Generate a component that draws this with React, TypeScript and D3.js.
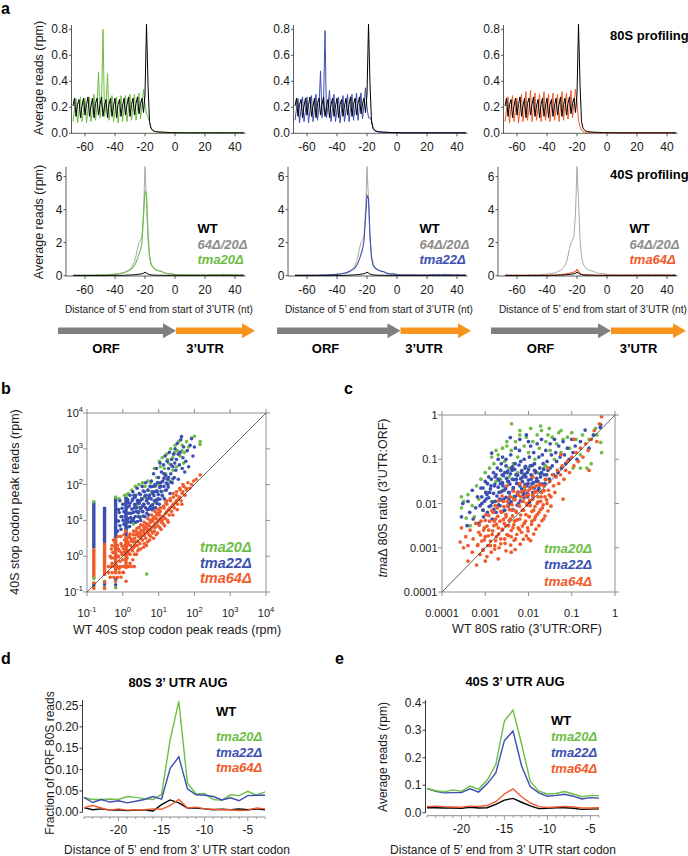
import React from "react";
import * as d3 from "d3";

const FONT = "'Liberation Sans', Arial, Helvetica, sans-serif";
const C_GREEN = "#6dbd45";
const C_BLUE = "#3b4fb0";
const C_ORANGE = "#f15a2a";
const C_GRAYLINE = "#a8a8a8";
const C_GRAYTEXT = "#8c8c8c";
const C_FRAME = "#8f8f8f";
const C_ARROW_GRAY = "#808080";
const C_ARROW_ORANGE = "#f7941e";

// ---------------- panel a: metagene profiles (nt -68 .. 46) ----------------
const NT = d3.range(-68, 47);
const NT_TICKS = [-60, -40, -20, 0, 20, 40];
const TICKS_80S = [0, 0.2, 0.4, 0.6, 0.8];
const TICKS_40S = [0, 2, 4, 6];
const MUT_NAMES = ["tma20\u0394", "tma22\u0394", "tma64\u0394"];
const MUT_COLORS = [C_GREEN, C_BLUE, C_ORANGE];

const WT_80S = [
  0.21, 0.27, 0.13, 0.22, 0.26, 0.12, 0.21, 0.27, 0.14, 0.22,
  0.28, 0.13, 0.21, 0.27, 0.12, 0.23, 0.27, 0.14, 0.22, 0.28,
  0.13, 0.21, 0.26, 0.12, 0.22, 0.27, 0.13, 0.21, 0.27, 0.12,
  0.22, 0.26, 0.13, 0.21, 0.27, 0.14, 0.22, 0.28, 0.13, 0.22,
  0.27, 0.14, 0.23, 0.28, 0.15, 0.23, 0.27, 0.16, 0.30, 0.84,
  0.38, 0.09, 0.04, 0.025, 0.018, 0.014, 0.012, 0.011, 0.010, 0.009,
  0.008, 0.008, 0.007, 0.007, 0.006, 0.006, 0.006, 0.005, 0.005, 0.005,
  0.005, 0.005, 0.004, 0.004, 0.004, 0.004, 0.004, 0.004, 0.004, 0.004,
  0.004, 0.004, 0.004, 0.004, 0.004, 0.004, 0.004, 0.004, 0.004, 0.004,
  0.004, 0.004, 0.004, 0.004, 0.004, 0.004, 0.004, 0.004, 0.004, 0.004,
  0.004, 0.004, 0.004, 0.004, 0.004, 0.004, 0.004, 0.004, 0.004, 0.004,
  0.004, 0.004, 0.004, 0.004, 0.004,
];
const TMA20_80S = [
  0.09, 0.18, 0.27, 0.08, 0.17, 0.28, 0.09, 0.18, 0.27, 0.08,
  0.19, 0.28, 0.09, 0.18, 0.30, 0.10, 0.20, 0.47, 0.12, 0.22,
  0.80, 0.13, 0.22, 0.46, 0.10, 0.19, 0.29, 0.09, 0.18, 0.28,
  0.08, 0.18, 0.29, 0.09, 0.19, 0.29, 0.09, 0.19, 0.30, 0.10,
  0.20, 0.30, 0.10, 0.20, 0.31, 0.11, 0.22, 0.34, 0.22, 0.15,
  0.13, 0.09, 0.04, 0.02, 0.015, 0.012, 0.011, 0.010, 0.009, 0.008,
  0.008, 0.007, 0.007, 0.007, 0.006, 0.006, 0.006, 0.005, 0.005, 0.005,
  0.005, 0.005, 0.005, 0.004, 0.004, 0.004, 0.004, 0.004, 0.004, 0.004,
  0.004, 0.004, 0.004, 0.004, 0.004, 0.004, 0.004, 0.004, 0.004, 0.004,
  0.004, 0.004, 0.004, 0.004, 0.004, 0.004, 0.004, 0.004, 0.004, 0.004,
  0.004, 0.004, 0.004, 0.004, 0.004, 0.004, 0.004, 0.004, 0.004, 0.004,
  0.004, 0.004, 0.004, 0.004, 0.004,
];
const TMA22_80S = [
  0.10, 0.19, 0.27, 0.08, 0.18, 0.28, 0.09, 0.17, 0.28, 0.08,
  0.18, 0.29, 0.09, 0.19, 0.30, 0.10, 0.20, 0.48, 0.12, 0.21,
  0.79, 0.12, 0.21, 0.33, 0.09, 0.19, 0.30, 0.09, 0.18, 0.28,
  0.08, 0.18, 0.29, 0.09, 0.18, 0.30, 0.09, 0.19, 0.30, 0.10,
  0.19, 0.31, 0.10, 0.21, 0.31, 0.11, 0.22, 0.35, 0.20, 0.12,
  0.12, 0.10, 0.04, 0.02, 0.015, 0.012, 0.010, 0.009, 0.008, 0.008,
  0.007, 0.007, 0.007, 0.006, 0.006, 0.006, 0.005, 0.005, 0.005, 0.005,
  0.005, 0.005, 0.004, 0.004, 0.004, 0.004, 0.004, 0.004, 0.004, 0.004,
  0.004, 0.004, 0.004, 0.004, 0.004, 0.004, 0.004, 0.004, 0.004, 0.004,
  0.004, 0.004, 0.004, 0.004, 0.004, 0.004, 0.004, 0.004, 0.004, 0.004,
  0.004, 0.004, 0.004, 0.004, 0.004, 0.004, 0.004, 0.004, 0.004, 0.004,
  0.004, 0.004, 0.004, 0.004, 0.004,
];
const TMA64_80S = [
  0.09, 0.18, 0.28, 0.08, 0.19, 0.29, 0.09, 0.18, 0.27, 0.08,
  0.19, 0.30, 0.09, 0.20, 0.32, 0.10, 0.19, 0.33, 0.09, 0.20,
  0.31, 0.10, 0.19, 0.30, 0.09, 0.20, 0.32, 0.10, 0.19, 0.30,
  0.09, 0.20, 0.31, 0.10, 0.19, 0.30, 0.09, 0.20, 0.32, 0.10,
  0.21, 0.31, 0.11, 0.22, 0.33, 0.12, 0.23, 0.34, 0.24, 0.10,
  0.05, 0.025, 0.015, 0.010, 0.008, 0.007, 0.006, 0.006, 0.005, 0.005,
  0.005, 0.005, 0.005, 0.004, 0.004, 0.004, 0.004, 0.004, 0.004, 0.004,
  0.004, 0.004, 0.004, 0.004, 0.004, 0.004, 0.004, 0.004, 0.004, 0.004,
  0.004, 0.004, 0.004, 0.004, 0.004, 0.004, 0.004, 0.004, 0.004, 0.004,
  0.004, 0.004, 0.004, 0.004, 0.004, 0.004, 0.004, 0.004, 0.004, 0.004,
  0.004, 0.004, 0.004, 0.004, 0.004, 0.004, 0.004, 0.004, 0.004, 0.004,
  0.004, 0.004, 0.004, 0.004, 0.004,
];

const WT_40S = [
  0.01, 0.01, 0.01, 0.01, 0.01, 0.01, 0.01, 0.01, 0.01, 0.01,
  0.01, 0.01, 0.01, 0.01, 0.01, 0.01, 0.01, 0.01, 0.01, 0.01,
  0.01, 0.01, 0.01, 0.01, 0.02, 0.02, 0.02, 0.02, 0.02, 0.02,
  0.02, 0.02, 0.02, 0.02, 0.03, 0.03, 0.03, 0.04, 0.04, 0.05,
  0.05, 0.06, 0.07, 0.08, 0.09, 0.10, 0.12, 0.15, 0.22, 0.16,
  0.10, 0.07, 0.05, 0.04, 0.04, 0.03, 0.03, 0.03, 0.03, 0.03,
  0.02, 0.02, 0.02, 0.02, 0.02, 0.02, 0.02, 0.02, 0.02, 0.02,
  0.02, 0.02, 0.02, 0.02, 0.02, 0.02, 0.02, 0.02, 0.02, 0.02,
  0.02, 0.02, 0.02, 0.02, 0.02, 0.02, 0.02, 0.02, 0.02, 0.02,
  0.02, 0.02, 0.02, 0.02, 0.02, 0.02, 0.02, 0.02, 0.02, 0.02,
  0.02, 0.02, 0.02, 0.02, 0.02, 0.02, 0.02, 0.02, 0.02, 0.02,
  0.02, 0.02, 0.02, 0.02, 0.02,
];
const DKO_40S = [
  0.04, 0.05, 0.04, 0.04, 0.05, 0.04, 0.04, 0.05, 0.04, 0.05,
  0.04, 0.04, 0.05, 0.05, 0.04, 0.05, 0.05, 0.06, 0.05, 0.06,
  0.06, 0.07, 0.06, 0.07, 0.08, 0.07, 0.08, 0.09, 0.10, 0.11,
  0.12, 0.13, 0.15, 0.17, 0.20, 0.24, 0.28, 0.33, 0.40, 0.50,
  0.65, 0.85, 1.20, 1.65, 2.00, 2.15, 2.40, 3.80, 6.60, 4.60,
  2.20, 1.20, 0.75, 0.55, 0.45, 0.38, 0.33, 0.30, 0.28, 0.26,
  0.22, 0.18, 0.15, 0.14, 0.13, 0.14, 0.12, 0.10, 0.08, 0.07,
  0.06, 0.06, 0.05, 0.05, 0.05, 0.04, 0.04, 0.05, 0.05, 0.04,
  0.05, 0.05, 0.06, 0.05, 0.05, 0.04, 0.05, 0.06, 0.05, 0.05,
  0.06, 0.07, 0.06, 0.06, 0.07, 0.08, 0.07, 0.06, 0.07, 0.08,
  0.09, 0.08, 0.07, 0.08, 0.07, 0.06, 0.07, 0.06, 0.05, 0.06,
  0.05, 0.05, 0.06, 0.05, 0.05,
];
const TMA20_40S = [
  0.03, 0.03, 0.03, 0.03, 0.03, 0.03, 0.03, 0.03, 0.03, 0.03,
  0.03, 0.03, 0.03, 0.03, 0.03, 0.03, 0.04, 0.04, 0.04, 0.04,
  0.04, 0.05, 0.05, 0.05, 0.06, 0.06, 0.07, 0.08, 0.09, 0.10,
  0.11, 0.12, 0.14, 0.16, 0.18, 0.21, 0.25, 0.30, 0.36, 0.42,
  0.50, 0.62, 0.80, 1.05, 1.30, 1.55, 2.00, 3.60, 5.10, 4.95,
  2.60, 1.20, 0.70, 0.55, 0.45, 0.38, 0.33, 0.30, 0.28, 0.25,
  0.20, 0.16, 0.13, 0.12, 0.11, 0.12, 0.10, 0.08, 0.06, 0.05,
  0.05, 0.04, 0.04, 0.04, 0.04, 0.04, 0.04, 0.04, 0.04, 0.04,
  0.04, 0.04, 0.04, 0.03, 0.03, 0.04, 0.04, 0.04, 0.03, 0.03,
  0.04, 0.04, 0.04, 0.04, 0.05, 0.05, 0.04, 0.04, 0.04, 0.05,
  0.05, 0.05, 0.04, 0.05, 0.04, 0.04, 0.04, 0.04, 0.03, 0.04,
  0.03, 0.03, 0.04, 0.03, 0.03,
];
const TMA22_40S = [
  0.03, 0.03, 0.03, 0.03, 0.03, 0.03, 0.03, 0.03, 0.03, 0.03,
  0.03, 0.03, 0.03, 0.03, 0.03, 0.03, 0.03, 0.04, 0.04, 0.04,
  0.04, 0.04, 0.05, 0.05, 0.05, 0.06, 0.07, 0.07, 0.08, 0.09,
  0.10, 0.12, 0.13, 0.15, 0.17, 0.20, 0.24, 0.28, 0.34, 0.40,
  0.48, 0.60, 0.78, 1.00, 1.30, 1.60, 2.10, 3.50, 4.85, 4.70,
  2.40, 1.10, 0.65, 0.50, 0.42, 0.36, 0.32, 0.28, 0.26, 0.24,
  0.19, 0.15, 0.12, 0.11, 0.10, 0.11, 0.09, 0.07, 0.06, 0.05,
  0.04, 0.04, 0.04, 0.04, 0.04, 0.04, 0.04, 0.04, 0.04, 0.04,
  0.04, 0.04, 0.03, 0.03, 0.04, 0.04, 0.04, 0.03, 0.03, 0.04,
  0.04, 0.04, 0.05, 0.04, 0.04, 0.05, 0.05, 0.04, 0.04, 0.05,
  0.05, 0.04, 0.05, 0.04, 0.04, 0.04, 0.04, 0.03, 0.04, 0.04,
  0.03, 0.04, 0.03, 0.03, 0.03,
];
const TMA64_40S = [
  0.02, 0.02, 0.02, 0.02, 0.02, 0.02, 0.02, 0.02, 0.02, 0.02,
  0.02, 0.02, 0.02, 0.02, 0.02, 0.02, 0.02, 0.02, 0.02, 0.02,
  0.02, 0.02, 0.02, 0.02, 0.03, 0.03, 0.03, 0.03, 0.03, 0.03,
  0.03, 0.04, 0.04, 0.04, 0.05, 0.05, 0.06, 0.06, 0.07, 0.08,
  0.09, 0.11, 0.13, 0.15, 0.17, 0.19, 0.22, 0.25, 0.38, 0.26,
  0.14, 0.09, 0.07, 0.06, 0.05, 0.05, 0.05, 0.04, 0.04, 0.04,
  0.03, 0.03, 0.03, 0.03, 0.03, 0.03, 0.03, 0.03, 0.02, 0.02,
  0.02, 0.02, 0.02, 0.02, 0.02, 0.02, 0.02, 0.02, 0.02, 0.02,
  0.02, 0.02, 0.02, 0.02, 0.02, 0.02, 0.02, 0.02, 0.02, 0.02,
  0.02, 0.02, 0.02, 0.02, 0.02, 0.02, 0.02, 0.02, 0.02, 0.02,
  0.02, 0.02, 0.02, 0.02, 0.02, 0.02, 0.02, 0.02, 0.02, 0.02,
  0.02, 0.02, 0.02, 0.02, 0.02,
];
const MUT_80S = [TMA20_80S, TMA22_80S, TMA64_80S];
const MUT_40S = [TMA20_40S, TMA22_40S, TMA64_40S];

// ---------------- panel b: 40S stop codon peak reads (log10 rpm) ----------------
const B_TICK_EXP = [-1, 0, 1, 2, 3, 4];
const B_STRIPE_X = [-0.81, -0.51, -0.2, 0.09];
const B_STRIPE_TOP = [1.52, 1.38, 1.63, 1.66];
const B_STRIPE_SPLIT = [0.22, 0.37, 0.5, 0.55];
const B_STRIPE_BOTTOM = [-0.61, -0.55, -0.45, -0.35];

const GREEN_B: [number, number][] = [
  [-0.1, 1.6], [0.05, 1.7], [0.15, 1.75], [0.25, 1.85], [0.35, 1.95], [0.45, 2.0], [0.55, 2.05], [0.62, 1.95], [0.7, 2.1], [0.78, 2.05],
  [0.88, 2.45], [0.95, 2.2], [1.02, 2.65], [1.1, 2.75], [1.16, 2.45], [1.22, 2.85], [1.28, 2.6], [1.34, 3.0], [1.4, 2.75], [1.46, 3.1],
  [1.52, 2.95], [1.56, 3.2], [1.6, 2.8], [1.66, 3.1], [1.72, 2.9], [1.78, 3.2], [1.84, 3.05], [1.92, 3.3], [2.0, 3.35], [2.16, 3.2],
  [2.16, 3.12], [0.2, 1.2], [0.4, 1.4], [0.6, 1.65], [0.8, 1.8], [1.0, 2.0], [1.2, 2.3], [1.4, 2.4], [0.3, 0.9], [0.5, 1.1],
  [0.7, 1.3], [0.9, 1.5], [1.1, 1.8], [1.3, 2.1], [1.5, 2.5], [1.7, 2.6], [0.67, -0.5], [-0.81, -0.85], [-0.51, -0.85], [-0.51, -0.7],
  [-0.81, -0.75], [-0.2, -0.88], [-0.81, -0.62], [-0.81, 1.52], [-0.2, 1.65], [0.09, 1.7], [1.05, 2.5], [1.25, 2.7], [1.45, 2.9], [1.65, 2.95],
];
const BLUE_B: [number, number][] = [
  [-0.05, 0.75], [-0.02, 1.1], [0.0, 1.45], [0.03, 0.9], [0.06, 1.25], [0.09, 1.6], [0.12, 0.8], [0.15, 1.05], [0.18, 1.4], [0.2, 1.7],
  [0.22, 0.95], [0.24, 1.2], [0.26, 1.55], [0.28, 1.8], [0.3, 1.05], [0.32, 1.35], [0.34, 1.65], [0.36, 0.95], [0.38, 1.25], [0.4, 1.9],
  [0.42, 1.5], [0.44, 1.1], [0.46, 1.75], [0.48, 1.35], [0.5, 1.0], [0.52, 1.6], [0.54, 1.95], [0.56, 1.25], [0.58, 1.45], [0.6, 1.8],
  [0.62, 1.1], [0.64, 2.05], [0.66, 1.55], [0.68, 1.3], [0.7, 1.85], [0.72, 1.15], [0.74, 1.65], [0.76, 1.95], [0.78, 1.4], [0.8, 2.1],
  [0.82, 1.3], [0.84, 1.75], [0.86, 2.3], [0.88, 1.55], [0.9, 2.0], [0.92, 1.35], [0.94, 2.45], [0.96, 1.8], [0.98, 1.6], [1.0, 2.2],
  [1.02, 1.45], [1.04, 2.6], [1.06, 1.95], [1.08, 2.35], [1.1, 1.7], [1.12, 2.1], [1.14, 2.55], [1.16, 1.6], [1.18, 2.8], [1.2, 2.25],
  [1.22, 1.85], [1.24, 2.65], [1.26, 2.0], [1.28, 2.45], [1.3, 2.9], [1.32, 1.75], [1.34, 2.3], [1.36, 2.7], [1.38, 2.05], [1.4, 2.5],
  [1.42, 2.85], [1.44, 2.2], [1.46, 3.0], [1.48, 2.4], [1.5, 2.7], [1.52, 3.15], [1.55, 2.15], [1.58, 2.55], [1.6, 2.9], [1.62, 3.25],
  [1.64, 3.34], [1.66, 2.45], [1.68, 2.75], [1.7, 3.05], [1.73, 2.35], [1.76, 2.65], [1.8, 2.95], [1.84, 2.5], [1.88, 3.1], [1.92, 3.28],
  [1.96, 2.8], [2.0, 3.05], [0.1, 1.2], [0.25, 1.0], [0.35, 1.45], [0.45, 1.25], [0.55, 1.4], [0.65, 1.7], [0.75, 1.35], [0.85, 1.95],
  [0.95, 1.55], [1.05, 2.05], [1.15, 2.3], [1.25, 2.15], [1.35, 2.55], [1.45, 2.6], [1.55, 2.85], [-0.15, 0.7], [-0.12, 1.3], [-0.18, 1.0],
  [-0.08, 1.55], [0.14, 1.5], [-0.81, -0.8], [-0.51, -0.78], [-0.2, -0.8], [-0.2, -0.65], [0.31, 1.7], [0.49, 1.55], [0.69, 1.6], [0.89, 1.8],
];
const BLUE_B_CORE: [number, number][] = [
  [-0.08, 0.85], [0.06, 0.87], [0.19, 0.83],
  [-0.12, 0.98], [0.01, 1.0], [0.15, 0.96], [0.29, 0.99], [0.41, 0.97],
  [-0.05, 1.1], [0.08, 1.12], [0.22, 1.08], [0.35, 1.11], [0.48, 1.09], [0.58, 1.12],
  [-0.1, 1.22], [0.03, 1.24], [0.17, 1.2], [0.3, 1.23], [0.43, 1.21], [0.55, 1.24], [0.67, 1.2],
  [-0.02, 1.34], [0.12, 1.36], [0.25, 1.32], [0.38, 1.35], [0.51, 1.33], [0.63, 1.36], [0.75, 1.32], [0.86, 1.35],
  [0.07, 1.46], [0.2, 1.48], [0.33, 1.44], [0.46, 1.47], [0.59, 1.45], [0.71, 1.48], [0.83, 1.44], [0.95, 1.47],
  [0.14, 1.58], [0.28, 1.6], [0.41, 1.56], [0.54, 1.59], [0.67, 1.57], [0.79, 1.6], [0.91, 1.56], [1.03, 1.59],
  [0.36, 1.7], [0.49, 1.72], [0.62, 1.68], [0.75, 1.71], [0.87, 1.69], [0.99, 1.72], [1.11, 1.68],
  [0.57, 1.82], [0.7, 1.84], [0.83, 1.8], [0.95, 1.83], [1.07, 1.81], [1.19, 1.84],
  [0.79, 1.94], [0.91, 1.96], [1.03, 1.92], [1.15, 1.95], [1.27, 1.93],
  [0.97, 2.06], [1.1, 2.08], [1.22, 2.04], [1.34, 2.07],
  [1.15, 2.18], [1.28, 2.2], [1.4, 2.16],
];
const ORANGE_B: [number, number][] = [
  [-0.3, -0.2], [-0.28, 0.1], [-0.25, -0.05], [-0.22, 0.25], [-0.2, 0.05], [-0.18, -0.25], [-0.15, 0.3], [-0.12, 0.0], [-0.1, 0.15], [-0.08, -0.15],
  [-0.05, 0.35], [-0.03, 0.1], [0.0, -0.1], [0.02, 0.2], [0.05, 0.45], [0.07, 0.05], [0.1, 0.25], [0.12, -0.05], [0.14, 0.4], [0.16, 0.15],
  [0.18, 0.55], [0.2, 0.05], [0.22, 0.3], [0.25, 0.45], [0.27, 0.15], [0.29, 0.6], [0.31, 0.25], [0.33, 0.05], [0.35, 0.4], [0.37, 0.7],
  [0.4, 0.3], [0.42, 0.15], [0.44, 0.55], [0.46, 0.8], [0.48, 0.35], [0.5, 0.2], [0.52, 0.6], [0.55, 0.45], [0.57, 0.85], [0.6, 0.35],
  [0.62, 0.65], [0.64, 0.5], [0.66, 0.9], [0.69, 0.4], [0.71, 0.75], [0.73, 0.6], [0.76, 1.0], [0.78, 0.55], [0.8, 0.8], [0.83, 0.65],
  [0.85, 1.05], [0.88, 0.7], [0.9, 0.9], [0.93, 0.6], [0.95, 1.15], [0.98, 0.85], [1.0, 1.0], [1.03, 0.8], [1.05, 1.25], [1.08, 0.95],
  [1.1, 1.1], [1.13, 0.9], [1.15, 1.35], [1.18, 1.05], [1.2, 1.2], [1.23, 1.45], [1.25, 1.0], [1.28, 1.3], [1.3, 1.15], [1.33, 1.55],
  [1.36, 1.25], [1.38, 1.4], [1.41, 1.65], [1.44, 1.35], [1.47, 1.5], [1.5, 1.7], [1.53, 1.45], [1.56, 1.6], [1.6, 1.85], [1.63, 1.55],
  [1.66, 1.75], [1.7, 1.95], [1.74, 1.7], [1.78, 1.85], [1.82, 2.05], [1.87, 1.9], [1.92, 2.0], [1.98, 2.1], [2.05, 2.15], [2.16, 2.27],
  [-0.35, 0.0], [-0.3, 0.3], [-0.26, 0.45], [-0.14, 0.55], [-0.06, 0.55], [0.03, 0.6], [0.08, 0.7], [-0.1, -0.35], [0.0, -0.45], [0.1, -0.3],
  [0.2, -0.2], [0.28, -0.1], [0.38, 0.05], [0.45, 0.2], [0.58, 0.25], [0.66, 0.3], [0.75, 0.45], [0.86, 0.5], [0.97, 0.65], [1.07, 0.75],
  [1.17, 0.85], [1.27, 0.95], [1.4, 1.15], [1.52, 1.3], [1.65, 1.45], [-0.4, -0.29], [-0.32, -0.29], [-0.24, -0.29], [-0.16, -0.29], [-0.08, -0.29],
  [0.0, -0.29], [0.08, -0.29], [0.16, -0.29], [0.24, -0.29], [0.32, -0.29], [-0.4, -0.46], [-0.3, -0.46], [-0.2, -0.46], [-0.1, -0.46], [0.02, -0.46],
  [-0.35, -0.59], [-0.25, -0.59], [-0.15, -0.59], [-0.05, -0.59], [-0.81, -0.75], [-0.51, -0.72], [-0.2, -0.7], [0.09, -0.7], [-0.81, -0.9], [-0.51, -0.9],
  [0.4, 0.6], [0.6, 0.75], [0.8, 1.0], [1.0, 1.2], [1.2, 1.5], [0.3, 0.4], [0.5, 0.5], [0.7, 0.65], [0.9, 0.8], [1.1, 1.0],
];
const ORANGE_B_CORE: [number, number][] = [
  [-0.32, -0.05], [-0.32, 0.2], [-0.22, 0.12], [-0.22, 0.38], [-0.12, 0.2], [-0.12, -0.02], [-0.02, 0.28], [-0.02, 0.05],
  [0.06, 0.3], [0.06, 0.12], [0.15, 0.35], [0.15, 0.1], [0.15, 0.52], [0.24, 0.42], [0.24, 0.2], [0.33, 0.5], [0.33, 0.3],
  [0.42, 0.42], [0.42, 0.65], [0.51, 0.55], [0.51, 0.72], [0.6, 0.58], [0.6, 0.8], [0.69, 0.7], [0.69, 0.9], [0.78, 0.72],
  [0.78, 0.95], [0.87, 0.85], [0.87, 1.1], [0.96, 0.95], [0.96, 1.2], [1.05, 1.05], [1.05, 1.35], [1.14, 1.12], [1.14, 1.4],
  [1.23, 1.25], [1.23, 1.55], [1.32, 1.35], [1.32, 1.6], [1.41, 1.45], [1.41, 1.75], [1.5, 1.55], [1.5, 1.8], [1.59, 1.65],
  [1.59, 1.9], [1.68, 1.8], [1.68, 2.0], [1.77, 1.9], [0.1, 0.45], [0.2, 0.62], [0.3, 0.7], [0.4, 0.78], [0.5, 0.88],
  [0.6, 0.95], [0.7, 1.05], [0.8, 1.15], [0.9, 1.25], [1.0, 1.3], [0.12, 0.3], [0.22, 0.5], [0.36, 0.6], [0.46, 0.65],
  [0.56, 0.68], [0.65, 0.82], [0.74, 0.85], [0.84, 0.98], [0.93, 1.05], [1.02, 1.15],
];

// ---------------- panel c: 80S ratio 3'UTR:ORF (log10) ----------------
const C_TICK_EXP = [-4, -3, -2, -1, 0];
const C_TICK_LABELS = ["0.0001", "0.001", "0.01", "0.1", "1"];
const GREEN_C: [number, number][] = [
  [-3.55, -1.85], [-3.55, -2.1], [-3.5, -1.95], [-3.44, -2.33], [-3.4, -1.8], [-3.35, -2.5], [-3.3, -2.05], [-3.25, -2.3], [-3.2, -1.6], [-3.1, -1.45],
  [-3.05, -2.15], [-3.0, -1.3], [-2.95, -1.75], [-2.9, -1.2], [-2.85, -0.95], [-2.85, -1.95], [-2.8, -1.1], [-2.75, -1.5], [-2.7, -0.9], [-2.65, -1.25],
  [-2.6, -0.75], [-2.6, -1.7], [-2.55, -1.05], [-2.5, -0.7], [-2.45, -1.4], [-2.4, -0.8], [-2.39, -0.2], [-2.35, -1.1], [-2.35, -1.85], [-2.3, -0.6],
  [-2.25, -0.95], [-2.2, -0.45], [-2.15, -1.25], [-2.1, -0.7], [-2.1, -1.65], [-2.05, -0.5], [-2.0, -0.85], [-1.95, -0.3], [-1.9, -0.6], [-1.9, -1.55],
  [-1.85, -1.0], [-1.8, -0.45], [-1.75, -0.75], [-1.7, -0.35], [-1.65, -1.2], [-1.6, -0.6], [-1.55, -0.45], [-1.5, -0.8], [-1.45, -0.5], [-1.4, -1.0],
  [-1.35, -0.65], [-1.3, -0.4], [-1.25, -0.85], [-1.2, -0.55], [-1.1, -0.5], [-1.05, -0.75], [-1.0, -0.4], [-0.9, -0.55], [-0.8, -0.9], [-0.75, -0.45],
  [-0.6, -0.55], [-0.55, -1.1], [-0.45, -0.3], [-0.33, -0.62], [-0.31, -0.85], [-0.42, -0.45], [-2.75, -0.8], [-2.5, -0.6], [-2.2, -0.35], [-1.72, -0.25],
  [-1.52, -0.3], [-1.25, -0.35], [-3.15, -1.9], [-2.95, -1.55], [-2.65, -1.45], [-2.45, -1.2], [-2.25, -1.3], [-2.0, -1.2], [-1.8, -1.3], [-1.6, -1.15],
  [-0.97, -1.2], [-0.8, -1.2], [-0.65, -1.2],
];
const BLUE_C: [number, number][] = [
  [-3.55, -2.3], [-3.52, -2.0], [-3.42, -2.5], [-3.4, -1.95], [-3.36, -2.2], [-3.3, -1.7], [-3.28, -2.35], [-3.22, -2.1], [-3.18, -1.85], [-3.15, -2.45],
  [-3.1, -1.65], [-3.08, -2.0], [-3.04, -2.3], [-3.0, -1.5], [-2.98, -1.9], [-2.95, -2.2], [-2.92, -1.4], [-2.9, -1.75], [-2.87, -2.05], [-2.85, -0.86],
  [-2.84, -2.35], [-2.81, -1.3], [-2.79, -1.6], [-2.77, -1.95], [-2.75, -2.2], [-2.72, -1.2], [-2.7, -1.45], [-2.68, -1.75], [-2.66, -2.05], [-2.63, -1.1],
  [-2.61, -1.35], [-2.59, -1.6], [-2.57, -1.9], [-2.55, -2.15], [-2.52, -1.0], [-2.5, -1.3], [-2.48, -1.5], [-2.46, -1.75], [-2.44, -2.0], [-2.42, -0.51],
  [-2.41, -0.9], [-2.39, -1.2], [-2.37, -1.45], [-2.35, -1.65], [-2.33, -1.9], [-2.31, -1.1], [-2.29, -1.35], [-2.27, -1.55], [-2.25, -1.8], [-2.23, -2.0],
  [-2.21, -0.8], [-2.2, -0.55], [-2.18, -1.05], [-2.16, -1.3], [-2.14, -1.5], [-2.12, -1.75], [-2.1, -1.0], [-2.08, -1.2], [-2.06, -1.4], [-2.04, -1.6],
  [-2.02, -1.85], [-2.0, -0.6], [-1.98, -0.95], [-1.96, -1.15], [-1.94, -1.35], [-1.92, -1.55], [-1.9, -1.75], [-1.88, -0.85], [-1.86, -1.1], [-1.84, -1.3],
  [-1.82, -1.5], [-1.8, -0.65], [-1.78, -1.7], [-1.76, -0.95], [-1.74, -1.2], [-1.72, -1.4], [-1.7, -0.55], [-1.68, -0.9], [-1.66, -1.1], [-1.64, -1.35],
  [-1.62, -1.55], [-1.6, -0.8], [-1.57, -1.05], [-1.55, -1.25], [-1.52, -1.45], [-1.5, -0.65], [-1.47, -0.9], [-1.45, -1.15], [-1.42, -1.35], [-1.4, -0.55],
  [-1.37, -0.85], [-1.35, -1.05], [-1.32, -1.3], [-1.3, -0.7], [-1.27, -0.95], [-1.24, -1.2], [-1.2, -0.6], [-1.17, -0.9], [-1.14, -1.1], [-1.1, -0.75],
  [-1.06, -1.0], [-1.0, -0.55], [-0.97, -0.85], [-0.92, -0.7], [-0.88, -1.0], [-0.8, -0.6], [-0.69, -0.34], [-0.6, -0.75], [-0.5, -0.45], [-0.34, -0.28],
  [-0.33, -0.22], [-2.6, -0.95], [-2.3, -0.75], [-1.95, -0.7], [-2.7, -1.0], [-2.05, -0.45],
];
const BLUE_C_CORE: [number, number][] = [
  [-3.05, -2.15], [-2.8, -2.13], [-2.58, -2.17], [-2.36, -2.14],
  [-3.12, -2.05], [-2.91, -2.07], [-2.69, -2.03], [-2.47, -2.06], [-2.26, -2.04],
  [-3.02, -1.95], [-2.83, -1.97], [-2.61, -1.93], [-2.4, -1.96], [-2.19, -1.94], [-1.98, -1.97],
  [-3.08, -1.85], [-2.92, -1.87], [-2.73, -1.83], [-2.52, -1.86], [-2.31, -1.84], [-2.1, -1.87], [-1.9, -1.83],
  [-2.99, -1.75], [-2.81, -1.77], [-2.62, -1.73], [-2.44, -1.76], [-2.24, -1.74], [-2.03, -1.77], [-1.83, -1.73],
  [-3.05, -1.65], [-2.88, -1.67], [-2.7, -1.63], [-2.53, -1.66], [-2.35, -1.64], [-2.16, -1.67], [-1.96, -1.63], [-1.76, -1.66],
  [-2.95, -1.55], [-2.78, -1.57], [-2.6, -1.53], [-2.43, -1.56], [-2.27, -1.54], [-2.08, -1.57], [-1.89, -1.53], [-1.68, -1.56],
  [-2.86, -1.45], [-2.68, -1.47], [-2.51, -1.43], [-2.34, -1.46], [-2.18, -1.44], [-2.0, -1.47], [-1.81, -1.43], [-1.61, -1.46],
  [-2.75, -1.35], [-2.58, -1.37], [-2.42, -1.33], [-2.25, -1.36], [-2.09, -1.34], [-1.92, -1.37], [-1.73, -1.33],
  [-2.64, -1.25], [-2.48, -1.27], [-2.32, -1.23], [-2.16, -1.26], [-2.0, -1.24], [-1.84, -1.27], [-1.65, -1.23],
  [-2.52, -1.15], [-2.37, -1.17], [-2.22, -1.13], [-2.07, -1.16], [-1.91, -1.14],
  [-2.96, -1.8], [-2.87, -1.6], [-2.77, -1.4], [-2.67, -1.9], [-2.65, -1.55], [-2.56, -1.7], [-2.55, -1.3], [-2.46, -1.5],
  [-2.45, -1.9], [-2.38, -1.25], [-2.36, -1.7], [-2.28, -1.45], [-2.2, -1.6], [-2.13, -1.4], [-2.12, -1.8], [-2.03, -1.3],
  [-2.01, -1.55], [-1.94, -1.45], [-1.87, -1.65], [-1.86, -1.25], [-1.78, -1.5], [-1.7, -1.3], [-1.58, -1.35], [-1.5, -1.2],
];
const ORANGE_C: [number, number][] = [
  [-3.58, -2.87], [-3.55, -2.55], [-3.5, -3.0], [-3.45, -2.75], [-3.4, -2.95], [-3.35, -2.6], [-3.3, -3.1], [-3.28, -2.8], [-3.22, -2.45], [-3.2, -3.39],
  [-3.18, -2.95], [-3.15, -2.65], [-3.12, -3.15], [-3.1, -2.4], [-3.08, -2.85], [-3.05, -3.05], [-3.02, -2.55], [-3.0, -2.75], [-2.98, -2.25], [-2.96, -3.2],
  [-2.94, -2.95], [-2.92, -2.6], [-2.9, -2.4], [-2.88, -2.85], [-2.86, -3.1], [-2.84, -2.7], [-2.82, -2.2], [-2.8, -2.5], [-2.78, -2.95], [-2.76, -2.35],
  [-2.74, -2.75], [-2.72, -2.1], [-2.7, -2.55], [-2.68, -3.0], [-2.66, -2.4], [-2.64, -2.8], [-2.62, -2.2], [-2.6, -2.6], [-2.58, -1.95], [-2.56, -2.45],
  [-2.54, -2.9], [-2.52, -2.3], [-2.5, -2.7], [-2.48, -2.05], [-2.46, -2.5], [-2.44, -1.85], [-2.42, -2.35], [-2.4, -2.75], [-2.38, -2.15], [-2.36, -2.55],
  [-2.34, -1.9], [-2.32, -2.4], [-2.3, -2.8], [-2.28, -2.2], [-2.26, -1.75], [-2.24, -2.55], [-2.22, -2.05], [-2.2, -2.35], [-2.18, -1.85], [-2.16, -2.65],
  [-2.14, -2.15], [-2.12, -1.95], [-2.1, -2.45], [-2.08, -1.7], [-2.06, -2.25], [-2.04, -2.0], [-2.02, -2.55], [-2.0, -1.8], [-1.98, -2.3], [-1.96, -2.05],
  [-1.94, -1.65], [-1.92, -2.4], [-1.9, -1.9], [-1.88, -2.15], [-1.86, -1.75], [-1.84, -2.3], [-1.82, -1.6], [-1.8, -2.0], [-1.78, -1.85], [-1.76, -2.2],
  [-1.74, -1.55], [-1.72, -1.95], [-1.7, -1.75], [-1.68, -2.1], [-1.65, -1.6], [-1.62, -1.85], [-1.6, -1.45], [-1.57, -2.0], [-1.54, -1.7], [-1.51, -1.5],
  [-1.48, -1.85], [-1.45, -1.35], [-1.42, -1.6], [-1.39, -1.75], [-1.36, -1.4], [-1.33, -1.25], [-1.3, -1.55], [-1.26, -1.35], [-1.22, -1.15], [-1.18, -1.45],
  [-1.14, -1.25], [-1.1, -1.05], [-1.05, -1.3], [-1.0, -0.95], [-0.95, -1.15], [-0.9, -0.85], [-0.85, -1.05], [-0.8, -0.75], [-0.74, -0.95], [-0.68, -0.65],
  [-0.62, -0.8], [-0.55, -0.55], [-0.48, -0.35], [-0.42, -0.6], [-0.36, -0.2], [-0.31, -0.04], [-0.6, -1.25], [-1.2, -1.9], [-1.65, -2.35], [-2.0, -2.8],
  [-2.4, -3.1], [-2.7, -3.25], [-3.0, -3.3], [-3.4, -3.3], [-2.5, -1.6], [-2.2, -1.55], [-1.9, -1.4], [-1.55, -1.2], [-1.25, -0.9], [-0.95, -0.55],
];
const ORANGE_C_CORE: [number, number][] = [
  [-3.05, -3.05], [-2.78, -3.03], [-2.52, -3.07], [-2.31, -3.04],
  [-3.17, -2.93], [-2.88, -2.95], [-2.64, -2.91], [-2.41, -2.94], [-2.19, -2.92],
  [-3.02, -2.82], [-2.76, -2.84], [-2.55, -2.8], [-2.33, -2.83], [-2.12, -2.81], [-1.95, -2.84],
  [-3.11, -2.71], [-2.93, -2.73], [-2.69, -2.69], [-2.47, -2.72], [-2.27, -2.7], [-2.05, -2.73], [-1.88, -2.69],
  [-3.04, -2.6], [-2.83, -2.62], [-2.61, -2.58], [-2.4, -2.61], [-2.21, -2.59], [-2.01, -2.62], [-1.83, -2.58],
  [-3.14, -2.49], [-2.96, -2.51], [-2.74, -2.47], [-2.53, -2.5], [-2.34, -2.48], [-2.14, -2.51], [-1.93, -2.47], [-1.76, -2.5],
  [-3.0, -2.38], [-2.79, -2.4], [-2.58, -2.36], [-2.45, -2.39], [-2.26, -2.37], [-2.07, -2.4], [-1.86, -2.36], [-1.69, -2.39],
  [-2.92, -2.27], [-2.71, -2.29], [-2.52, -2.25], [-2.37, -2.28], [-2.18, -2.26], [-1.99, -2.29], [-1.8, -2.25], [-1.62, -2.28],
  [-2.85, -2.16], [-2.64, -2.18], [-2.44, -2.14], [-2.29, -2.17], [-2.11, -2.15], [-1.92, -2.18], [-1.72, -2.14], [-1.55, -2.17],
  [-2.77, -2.05], [-2.57, -2.07], [-2.38, -2.03], [-2.21, -2.06], [-2.03, -2.04], [-1.85, -2.07], [-1.66, -2.03], [-1.48, -2.06],
  [-2.69, -1.94], [-2.49, -1.96], [-2.31, -1.92], [-2.14, -1.95], [-1.97, -1.93], [-1.78, -1.96], [-1.58, -1.92],
  [-2.61, -1.83], [-2.42, -1.85], [-2.24, -1.81], [-2.07, -1.84], [-1.9, -1.82], [-1.71, -1.85], [-1.52, -1.81],
  [-2.35, -1.72], [-2.16, -1.74], [-1.99, -1.7], [-1.82, -1.73], [-1.64, -1.71],
  [-2.09, -1.61], [-1.91, -1.63], [-1.74, -1.59],
];

// ---------------- panels d, e: 3'UTR AUG metagenes ----------------
const D_POS = d3.range(-24, -2);
const D_WT = [0.011, 0.006, 0.008, 0.005, 0.006, 0.004, 0.005, 0.006, 0.003, 0.018, 0.029, 0.022, 0.01, 0.01, 0.008, 0.006, 0.007, 0.006, 0.008, 0.006, 0.008, 0.006];
const D_TMA20 = [0.034, 0.03, 0.03, 0.031, 0.03, 0.037, 0.035, 0.032, 0.03, 0.042, 0.17, 0.26, 0.068, 0.043, 0.044, 0.03, 0.028, 0.041, 0.039, 0.049, 0.04, 0.048];
const D_TMA22 = [0.035, 0.023, 0.03, 0.024, 0.027, 0.022, 0.026, 0.03, 0.037, 0.031, 0.103, 0.13, 0.055, 0.041, 0.04, 0.037, 0.029, 0.034, 0.027, 0.039, 0.04, 0.04];
const D_TMA64 = [0.011, 0.016, 0.01, 0.005, 0.008, 0.005, 0.006, 0.006, 0.008, 0.007, 0.016, 0.03, 0.01, 0.012, 0.008, 0.007, 0.006, 0.006, 0.004, 0.005, 0.01, 0.008];
const D_TICKS_Y = [0, 0.05, 0.1, 0.15, 0.2, 0.25];

const E_POS = d3.range(-24, -3);
const E_WT = [0.018, 0.018, 0.017, 0.017, 0.016, 0.02, 0.017, 0.018, 0.03, 0.046, 0.052, 0.038, 0.025, 0.015, 0.016, 0.018, 0.018, 0.016, 0.012, 0.013, 0.014];
const E_TMA20 = [0.088, 0.08, 0.076, 0.083, 0.078, 0.097, 0.085, 0.118, 0.175, 0.333, 0.373, 0.25, 0.115, 0.078, 0.068, 0.07, 0.077, 0.068, 0.058, 0.062, 0.062];
const E_TMA22 = [0.088, 0.078, 0.072, 0.073, 0.073, 0.087, 0.075, 0.105, 0.145, 0.262, 0.297, 0.17, 0.095, 0.072, 0.06, 0.063, 0.067, 0.06, 0.05, 0.055, 0.053];
const E_TMA64 = [0.022, 0.024, 0.022, 0.021, 0.02, 0.024, 0.023, 0.026, 0.04, 0.068, 0.087, 0.058, 0.036, 0.022, 0.019, 0.021, 0.023, 0.021, 0.017, 0.017, 0.018];
const E_TICKS_Y = [0, 0.1, 0.2, 0.3, 0.4];
const DE_TICKS_X = [-20, -15, -10, -5];

// ---------------- layout ----------------
const A_LEFTS = [71.5, 293.5, 503.5];
const A_W = 174;
const A_TITLE_X = [159, 379, 593];
const ARROW_GRAY = [[58, 176], [277, 400.5], [491, 611]];
const ARROW_ORANGE_END = [255, 471, 686];
const ORF_X = [106, 325.5, 540.5];
const UTR_X = [205, 424, 638.5];

const T = (props: any) => <text fontFamily={FONT} fill="#1a1a1a" {...props} />;

function Arrow({ x0, x1, color }: { x0: number; x1: number; color: string }) {
  const cy = 330.7;
  const hl = 13;
  const sh = 3.2;
  const hh = 7.5;
  const pts = [
    [x0, cy - sh], [x1 - hl, cy - sh], [x1 - hl, cy - hh], [x1, cy], [x1 - hl, cy + hh], [x1 - hl, cy + sh], [x0, cy + sh],
  ];
  return <polygon points={pts.map((p) => p.join(",")).join(" ")} fill={color} />;
}

function ProfilePanel({ idx }: { idx: number }) {
  const left = A_LEFTS[idx];
  const x = d3.scaleLinear().domain([-69, 47]).range([left, left + A_W]);
  const yT = d3.scaleLinear().domain([0, 0.833]).range([133.3, 25]);
  const yB = d3.scaleLinear().domain([0, 6.6]).range([275.7, 166.7]);
  const lineT = d3.line<number>().x((_, i) => x(NT[i])).y((d) => yT(d));
  const lineB = d3.line<number>().x((_, i) => x(NT[i])).y((d) => yB(d));
  const bAxis = left - 5.5;
  const f1 = d3.format(".1f");
  return (
    <g>
      <line x1={left} x2={left} y1={25} y2={133.3} stroke="#333" strokeWidth={0.8} />
      <line x1={left} x2={left + A_W} y1={133.3} y2={133.3} stroke="#333" strokeWidth={0.8} />
      {TICKS_80S.map((t) => (
        <g key={t}>
          <line x1={left - 2.5} x2={left} y1={yT(t)} y2={yT(t)} stroke="#333" strokeWidth={0.8} />
          <T x={left - 3.5} y={yT(t) + 4} fontSize={12} textAnchor="end">{f1(t)}</T>
        </g>
      ))}
      {NT_TICKS.map((t) => (
        <g key={t}>
          <line x1={x(t)} x2={x(t)} y1={133.3} y2={136.3} stroke="#333" strokeWidth={0.8} />
          <T x={x(t)} y={151} fontSize={12} textAnchor="middle">{t}</T>
        </g>
      ))}
      <path d={lineT(MUT_80S[idx]) || ""} fill="none" stroke={MUT_COLORS[idx]} strokeWidth={1} />
      <path d={lineT(WT_80S) || ""} fill="none" stroke="#000" strokeWidth={1} />
      <line x1={bAxis} x2={bAxis} y1={166.7} y2={276} stroke="#333" strokeWidth={0.8} />
      <line x1={bAxis} x2={left + A_W} y1={276} y2={276} stroke="#333" strokeWidth={0.8} />
      {TICKS_40S.map((t) => (
        <g key={t}>
          <line x1={bAxis - 2.5} x2={bAxis} y1={yB(t)} y2={yB(t)} stroke="#333" strokeWidth={0.8} />
          <T x={bAxis - 3.5} y={yB(t) + 4} fontSize={12} textAnchor="end">{t}</T>
        </g>
      ))}
      {NT_TICKS.map((t) => (
        <g key={t}>
          <line x1={x(t)} x2={x(t)} y1={276} y2={279} stroke="#333" strokeWidth={0.8} />
          <T x={x(t)} y={293.5} fontSize={12} textAnchor="middle">{t}</T>
        </g>
      ))}
      <path d={lineB(DKO_40S) || ""} fill="none" stroke={C_GRAYLINE} strokeWidth={1} />
      <path d={lineB(MUT_40S[idx]) || ""} fill="none" stroke={MUT_COLORS[idx]} strokeWidth={1.1} />
      <path d={lineB(WT_40S) || ""} fill="none" stroke="#000" strokeWidth={1} />
      <T x={left + 126} y={232.5} fontSize={13} fontWeight="bold" fill="#000">WT</T>
      <T x={left + 126} y={248.5} fontSize={13} fontWeight="bold" fontStyle="italic" fill={C_GRAYTEXT}>{"64\u0394/20\u0394"}</T>
      <T x={left + 126} y={263.5} fontSize={13} fontWeight="bold" fontStyle="italic" fill={MUT_COLORS[idx]}>{MUT_NAMES[idx]}</T>
      <T x={A_TITLE_X[idx]} y={312.5} fontSize={10} textAnchor="middle" textLength={188} lengthAdjust="spacingAndGlyphs">
        {"Distance of 5\u2019 end from start of 3\u2019UTR (nt)"}
      </T>
      <Arrow x0={ARROW_GRAY[idx][1]} x1={ARROW_ORANGE_END[idx]} color={C_ARROW_ORANGE} />
      <Arrow x0={ARROW_GRAY[idx][0]} x1={ARROW_GRAY[idx][1]} color={C_ARROW_GRAY} />
      <T x={ORF_X[idx]} y={352.5} fontSize={13} fontWeight="bold" textAnchor="middle" fill="#000">ORF</T>
      <T x={UTR_X[idx]} y={352.5} fontSize={13} fontWeight="bold" textAnchor="middle" fill="#000">{"3\u2019UTR"}</T>
    </g>
  );
}

function LogScatter({ x, y, tickExp, xLabel, yLabel, series, r }: any) {
  const [x0, x1] = x.range();
  const [y0, y1] = y.range();
  return (
    <g>
      {series.map((s: any, si: number) => (
        <g key={si}>
          {s.pts.map((p: [number, number], i: number) => (
            <circle key={i} cx={x(Math.pow(10, p[0]))} cy={y(Math.pow(10, p[1]))} r={r} fill={s.color} />
          ))}
        </g>
      ))}
      <rect x={x0} y={y1} width={x1 - x0} height={y0 - y1} fill="none" stroke={C_FRAME} strokeWidth={1} />
      <line x1={x0} y1={y0} x2={x1} y2={y1} stroke="#222" strokeWidth={0.7} />
      {tickExp.map((e: number) => {
        const v = Math.pow(10, e);
        return (
          <g key={e}>
            <line x1={x(v)} x2={x(v)} y1={y0} y2={y0 + 4} stroke={C_FRAME} />
            <line x1={x(v)} x2={x(v)} y1={y1} y2={y1 - 4} stroke={C_FRAME} />
            <line x1={x0 - 4} x2={x0} y1={y(v)} y2={y(v)} stroke={C_FRAME} />
            <line x1={x1} x2={x1 + 4} y1={y(v)} y2={y(v)} stroke={C_FRAME} />
            {xLabel(e, x(v))}
            {yLabel(e, y(v))}
          </g>
        );
      })}
    </g>
  );
}

function AugPanel({ x, y, pos, series, yTicks, yFmt, axisY }: any) {
  const [x0, x1] = x.range();
  const yTop = y.range()[1];
  const line = d3.line<number>().x((_, i) => x(pos[i])).y((d) => y(d));
  const dom = x.domain();
  const minor = d3.range(Math.ceil(dom[0]), Math.floor(dom[1]) + 1);
  return (
    <g>
      <line x1={x0 - 1.5} x2={x0 - 1.5} y1={yTop} y2={y(0)} stroke="#222" strokeWidth={0.9} />
      {yTicks.map((t: number) => (
        <g key={t}>
          <line x1={x0 - 4.5} x2={x0 - 1.5} y1={y(t)} y2={y(t)} stroke="#222" strokeWidth={0.9} />
          <T x={x0 - 5.5} y={y(t) + 4} fontSize={12} textAnchor="end">{yFmt(t)}</T>
        </g>
      ))}
      <line x1={x0} x2={x1} y1={axisY} y2={axisY} stroke={C_FRAME} strokeWidth={1} />
      {minor.map((m: number) => (
        <line key={m} x1={x(m)} x2={x(m)} y1={axisY} y2={axisY + (DE_TICKS_X.includes(m) ? 4 : 2)} stroke={C_FRAME} strokeWidth={0.9} />
      ))}
      {DE_TICKS_X.map((t) => (
        <T key={t} x={x(t)} y={axisY + 17} fontSize={12} textAnchor="middle">{t}</T>
      ))}
      {series.map((s: any, i: number) => (
        <path key={i} d={line(s.vals) || ""} fill="none" stroke={s.color} strokeWidth={1.4} />
      ))}
    </g>
  );
}

export default function App() {
  const bx = d3.scaleLog().domain([0.1, 1e4]).range([87, 266]);
  const by = d3.scaleLog().domain([0.1, 1e4]).range([592, 413]);
  const cx = d3.scaleLog().domain([1e-4, 1]).range([442, 615]);
  const cy = d3.scaleLog().domain([1e-4, 1]).range([592, 415]);
  const dx = d3.scaleLinear().domain([-24, -3]).range([84, 265]);
  const dy = d3.scaleLinear().domain([0, 0.263]).range([812.3, 700]);
  const ex = d3.scaleLinear().domain([-24, -4]).range([427, 599]);
  const ey = d3.scaleLinear().domain([0, 0.41]).range([812.7, 700]);

  const supLabel = (e: number, cxp: number, cyp: number, anchor: string) => (
    <T x={cxp} y={cyp} fontSize={11} textAnchor={anchor}>
      10<tspan dy={-5} fontSize={7.5}>{String(e)}</tspan>
    </T>
  );

  const legend = (x0: number, ys: number[], size: number, names: string[], colors: string[], weight: string) =>
    names.map((n, i) => (
      <T key={n} x={x0} y={ys[i]} fontSize={size} fontWeight={weight} fontStyle={n === "WT" ? "normal" : "italic"} fill={colors[i]}>
        {n}
      </T>
    ));

  return (
    <svg width={688} height={856} style={{ position: "absolute", left: 0, top: 0, display: "block" }}>
      <rect x={0} y={0} width={688} height={856} fill="#fff" />
      <T x={1} y={14} fontSize={16} fontWeight="bold" fill="#000">a</T>
      <T x={1} y={394} fontSize={16} fontWeight="bold" fill="#000">b</T>
      <T x={344} y={394} fontSize={16} fontWeight="bold" fill="#000">c</T>
      <T x={1} y={664} fontSize={16} fontWeight="bold" fill="#000">d</T>
      <T x={335} y={664} fontSize={16} fontWeight="bold" fill="#000">e</T>

      {/* panel a */}
      <T transform="translate(43,78) rotate(-90)" fontSize={12.5} textAnchor="middle">Average reads (rpm)</T>
      <T transform="translate(43,222) rotate(-90)" fontSize={12.5} textAnchor="middle">Average reads (rpm)</T>
      {[0, 1, 2].map((i) => <ProfilePanel key={i} idx={i} />)}
      <T x={610} y={39.5} fontSize={13} fontWeight="bold" fill="#000">80S profiling</T>
      <T x={610} y={178.5} fontSize={13} fontWeight="bold" fill="#000">40S profiling</T>

      {/* panel b */}
      {B_STRIPE_X.map((sx, i) => (
        <g key={i}>
          <rect x={bx(Math.pow(10, sx)) - 1.7} width={3.4} y={by(Math.pow(10, B_STRIPE_TOP[i]))}
            height={by(Math.pow(10, B_STRIPE_SPLIT[i])) - by(Math.pow(10, B_STRIPE_TOP[i]))} fill={C_BLUE} />
          <rect x={bx(Math.pow(10, sx)) - 1.7} width={3.4} y={by(Math.pow(10, B_STRIPE_SPLIT[i]))}
            height={by(Math.pow(10, B_STRIPE_BOTTOM[i])) - by(Math.pow(10, B_STRIPE_SPLIT[i]))} fill={C_ORANGE} />
        </g>
      ))}
      <LogScatter
        x={bx} y={by} tickExp={B_TICK_EXP} r={1.8}
        series={[
          { pts: GREEN_B, color: C_GREEN },
          { pts: BLUE_B.concat(BLUE_B_CORE), color: C_BLUE },
          { pts: ORANGE_B.concat(ORANGE_B_CORE), color: C_ORANGE },
        ]}
        xLabel={(e: number, px: number) => supLabel(e, px, 617, "middle")}
        yLabel={(e: number, py: number) => supLabel(e, 83, py + 4, "end")}
      />
      <T transform="translate(19,502) rotate(-90)" fontSize={12.5} textAnchor="middle">40S stop codon peak reads (rpm)</T>
      <T x={177} y={633.5} fontSize={12.5} textAnchor="middle">WT 40S stop codon peak reads (rpm)</T>
      {legend(200, [551.5, 567.5, 583], 14.5, MUT_NAMES, MUT_COLORS, "bold")}

      {/* panel c */}
      <LogScatter
        x={cx} y={cy} tickExp={C_TICK_EXP} r={1.85}
        series={[
          { pts: GREEN_C, color: C_GREEN },
          { pts: BLUE_C.concat(BLUE_C_CORE), color: C_BLUE },
          { pts: ORANGE_C.concat(ORANGE_C_CORE), color: C_ORANGE },
        ]}
        xLabel={(e: number, px: number) => <T x={px} y={617} fontSize={11} textAnchor="middle">{C_TICK_LABELS[e + 4]}</T>}
        yLabel={(e: number, py: number) => <T x={437.5} y={py + 4} fontSize={11} textAnchor="end">{C_TICK_LABELS[e + 4]}</T>}
      />
      <T transform="translate(387,498) rotate(-90)" fontSize={12.5} textAnchor="middle">
        <tspan fontStyle="italic">tma</tspan>{"\u0394 80S ratio (3\u2019UTR:ORF)"}
      </T>
      <T x={527} y={632.5} fontSize={12.5} textAnchor="middle">{"WT 80S ratio (3\u2019UTR:ORF)"}</T>
      {legend(544, [552.5, 569, 585.5], 13.5, MUT_NAMES, MUT_COLORS, "bold")}

      {/* panel d */}
      <T x={178} y={686.5} fontSize={13} fontWeight="bold" textAnchor="middle" fill="#000">{"80S 3\u2019 UTR AUG"}</T>
      <AugPanel
        x={dx} y={dy} pos={D_POS} yTicks={D_TICKS_Y} yFmt={d3.format(".2f")} axisY={817}
        series={[{ vals: D_TMA20, color: C_GREEN }, { vals: D_TMA22, color: C_BLUE }, { vals: D_WT, color: "#000" }, { vals: D_TMA64, color: C_ORANGE }]}
      />
      <T transform="translate(54,763) rotate(-90)" fontSize={12} textAnchor="middle">Fraction of ORF 80S reads</T>
      <T x={177} y={854} fontSize={12} textAnchor="middle">{"Distance of 5\u2019 end from 3\u2019 UTR start codon"}</T>
      {legend(216, [716, 741, 756.5, 771.5], 13, ["WT", ...MUT_NAMES], ["#000", ...MUT_COLORS], "bold")}

      {/* panel e */}
      <T x={515} y={685.5} fontSize={13} fontWeight="bold" textAnchor="middle" fill="#000">{"40S 3\u2019 UTR AUG"}</T>
      <AugPanel
        x={ex} y={ey} pos={E_POS} yTicks={E_TICKS_Y} yFmt={d3.format(".1f")} axisY={815.7}
        series={[{ vals: E_WT, color: "#000" }, { vals: E_TMA64, color: C_ORANGE }, { vals: E_TMA22, color: C_BLUE }, { vals: E_TMA20, color: C_GREEN }]}
      />
      <T transform="translate(387,757) rotate(-90)" fontSize={12} textAnchor="middle">Average reads (rpm)</T>
      <T x={503} y={854} fontSize={12} textAnchor="middle">{"Distance of 5\u2019 end from 3\u2019 UTR start codon"}</T>
      {legend(551, [725, 740.5, 757, 772.5], 13, ["WT", ...MUT_NAMES], ["#000", ...MUT_COLORS], "bold")}
    </svg>
  );
}
